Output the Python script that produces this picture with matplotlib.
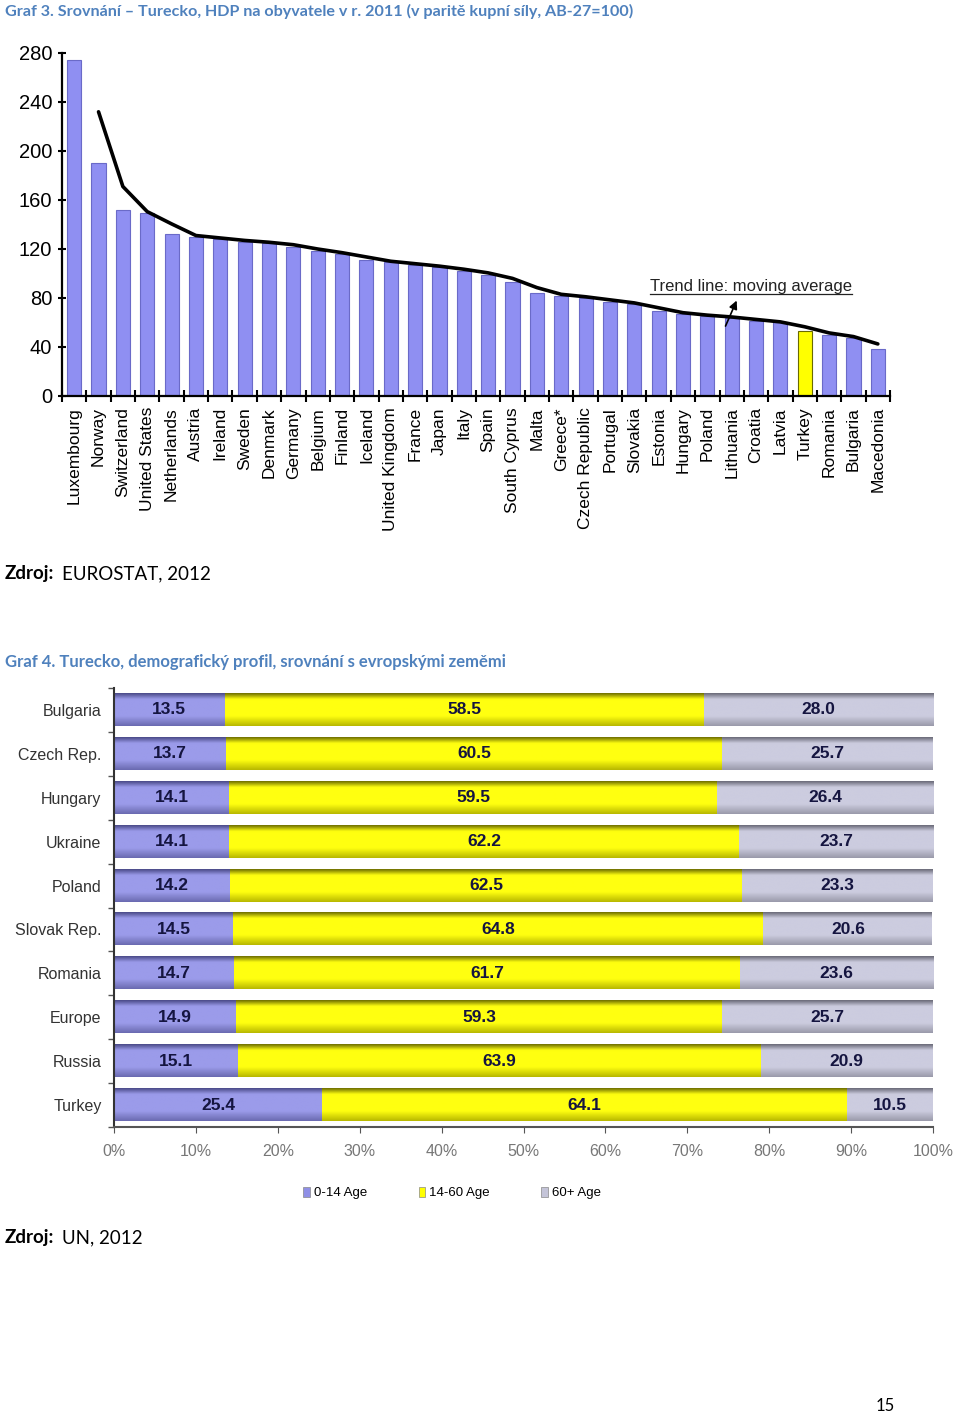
import numpy as np
import pandas as pd
import matplotlib
matplotlib.use("Agg")
import matplotlib.pyplot as plt
from matplotlib.colors import LinearSegmentedColormap

# --- Graf 3 data: GDP per capita PPS 2011 (EU-27 = 100)
countries = ["Luxembourg", "Norway", "Switzerland", "United States", "Netherlands",
             "Austria", "Ireland", "Sweden", "Denmark", "Germany", "Belgium", "Finland",
             "Iceland", "United Kingdom", "France", "Japan", "Italy", "Spain",
             "South Cyprus", "Malta", "Greece*", "Czech Republic", "Portugal", "Slovakia",
             "Estonia", "Hungary", "Poland", "Lithuania", "Croatia", "Latvia", "Turkey",
             "Romania", "Bulgaria", "Macedonia"]
gdp = [274, 190, 152, 149, 132, 130, 128, 126, 125, 122, 118, 116, 111, 109, 107, 105,
       102, 99, 93, 84, 82, 80, 77, 75, 69, 67, 65, 64, 61, 60, 53, 50, 47, 38]
gdp_ticks = [0, 40, 80, 120, 160, 200, 240, 280]

# --- Graf 4 data: age structure (%)
demo_countries = ["Bulgaria", "Czech Rep.", "Hungary", "Ukraine", "Poland", "Slovak Rep.",
                  "Romania", "Europe", "Russia", "Turkey"]
age_0_14 = [13.5, 13.7, 14.1, 14.1, 14.2, 14.5, 14.7, 14.9, 15.1, 25.4]
age_14_60 = [58.5, 60.5, 59.5, 62.2, 62.5, 64.8, 61.7, 59.3, 63.9, 64.1]
age_60_plus = [28.0, 25.7, 26.4, 23.7, 23.3, 20.6, 23.6, 25.7, 20.9, 10.5]
age_labels = ["0-14 Age", "14-60 Age", "60+ Age"]
pct_ticks = [0, 10, 20, 30, 40, 50, 60, 70, 80, 90, 100]

W, H = 960, 1416
BLUE_T = "#4f81bd"
fig = plt.figure(figsize=(W / 100, H / 100), dpi=100)
fig.patch.set_facecolor("white")


def fx(px):
    return px / W


def fy(py):
    return 1 - py / H


# ---------- headers ----------
fig.text(fx(5), fy(11), "Graf 3. Srovnání – Turecko, HDP na obyvatele v r. 2011 (v paritě kupní síly, AB-27=100)",
         color=BLUE_T, fontsize=11.6, fontweight="bold", family="Lato", va="center")
fig.text(fx(5), fy(574), "Zdroj:", fontsize=13.5, fontweight="bold", family="Lato", va="center")
fig.text(fx(62), fy(574), "EUROSTAT, 2012", fontsize=13.5, family="Lato", va="center")
fig.text(fx(5), fy(662), "Graf 4. Turecko, demografický profil, srovnání s evropskými zeměmi",
         color=BLUE_T, fontsize=12, fontweight="bold", family="Lato", va="center")
fig.text(fx(5), fy(1238), "Zdroj:", fontsize=13.5, fontweight="bold", family="Lato", va="center")
fig.text(fx(62), fy(1238), "UN, 2012", fontsize=13.5, family="Lato", va="center")
fig.text(fx(885), fy(1406), "15", fontsize=12, family="Lato", va="center", ha="center")

# ---------- Graf 3 ----------
ax1 = fig.add_axes([fx(62), fy(396), fx(828), (396 - 53) / H])
x = np.arange(len(countries))
colors = ["#ffff00" if c == "Turkey" else "#8f8ff2" for c in countries]
edges = ["#6a6a00" if c == "Turkey" else "#6a6ac8" for c in countries]
ax1.bar(x, gdp, width=0.58, color=colors, edgecolor=edges, linewidth=0.8, zorder=2)

# 2-period moving average trend line
ma = pd.Series(gdp).rolling(2).mean()
ax1.plot(x[1:], ma.values[1:], color="black", lw=2.6, zorder=3, solid_capstyle="round")

ax1.set_xlim(-0.5, len(countries) - 0.5)
ax1.set_ylim(0, 280)
ax1.set_yticks(gdp_ticks)
ax1.set_yticklabels([str(t) for t in gdp_ticks], fontsize=14.5, family="Liberation Sans")
ax1.set_xticks(x)
ax1.set_xticklabels(countries, rotation=90, fontsize=12.5, family="Liberation Sans", va="top")
ax1.tick_params(axis="x", length=0, pad=8)
ax1.set_xticks(np.arange(-0.5, len(countries)), minor=True)
ax1.tick_params(axis="x", which="minor", length=9, width=1.5, direction="inout")
ax1.tick_params(axis="y", length=6, width=1.5, direction="inout", pad=4)
for s in ["top", "right"]:
    ax1.spines[s].set_visible(False)
ax1.spines["left"].set_linewidth(1.6)
ax1.spines["bottom"].set_linewidth(1.6)

ax1.annotate("", xy=(27.25, 80), xytext=(26.7, 55),
             arrowprops=dict(arrowstyle="-|>", color="black", lw=1.2, mutation_scale=12), zorder=4)
ax1.text(27.8, 89, "Trend line: moving average", fontsize=12, family="Liberation Sans",
         ha="center", va="center", color="#222222")
ax1.plot([23.65, 31.95], [83.0, 83.0], color="#222222", lw=0.9, clip_on=False)

# ---------- Graf 4 ----------
ax2 = fig.add_axes([fx(114), fy(1127), fx(819), (1127 - 688) / H])
n = len(demo_countries)
ys = np.arange(n)[::-1]
bh = 0.73


def grad_cmap(dark, light, bottom):
    return LinearSegmentedColormap.from_list("g", [(0, dark), (0.18, light), (0.7, light), (1, bottom)])


cmaps = [grad_cmap("#4a4a88", "#9b9bea", "#6a6ab0"),
         grad_cmap("#6e6e00", "#ffff10", "#b8b800"),
         grad_cmap("#6a6a78", "#ccccdf", "#9a9aaa")]
solid = ["#8f8fe6", "#ffff00", "#c4c4d8"]
grad = np.linspace(0, 1, 64).reshape(-1, 1)

series = [age_0_14, age_14_60, age_60_plus]
for i in range(n):
    left = 0
    for k, vals in enumerate(series):
        v = vals[i]
        ax2.imshow(grad, cmap=cmaps[k], aspect="auto", interpolation="bicubic",
                   extent=(left, left + v, ys[i] - bh / 2, ys[i] + bh / 2), zorder=2)
        ax2.text(left + v / 2, ys[i], f"{v:.1f}", ha="center", va="center", fontsize=12.5,
                 fontweight="bold", color="#151540", family="Liberation Sans", zorder=4)
        left += v

ax2.set_xlim(0, 100)
ax2.set_ylim(-0.5, n - 0.5)
ax2.set_yticks(ys)
ax2.set_yticklabels(demo_countries, fontsize=11.5, family="Liberation Sans", color="#333333")
ax2.set_yticks(np.arange(-0.5, n), minor=True)
ax2.tick_params(axis="y", which="major", length=0, pad=9)
ax2.tick_params(axis="y", which="minor", length=4, width=1, color="#555555")
ax2.set_xticks(pct_ticks)
ax2.set_xticklabels([f"{p}%" for p in pct_ticks], fontsize=11.5, family="Liberation Sans",
                    color="#777777")
ax2.tick_params(axis="x", length=4, color="#555555", pad=8)
for s in ["top", "right"]:
    ax2.spines[s].set_visible(False)
ax2.spines["left"].set_color("#333333")
ax2.spines["left"].set_linewidth(1.5)
ax2.spines["bottom"].set_color("#555555")
ax2.spines["bottom"].set_linewidth(1.5)

# legend
handles = [plt.Rectangle((0, 0), 1, 1, facecolor=c, edgecolor="#888888", lw=0.5) for c in solid]
fig.legend(handles, age_labels, loc="center", bbox_to_anchor=(fx(452), fy(1193)), ncol=3,
           frameon=False, handlelength=0.5, handleheight=0.8, handletextpad=0.3,
           columnspacing=3.9, prop={"family": "Liberation Sans", "size": 9.5})

fig.savefig("out.png", dpi=100, facecolor="white")
